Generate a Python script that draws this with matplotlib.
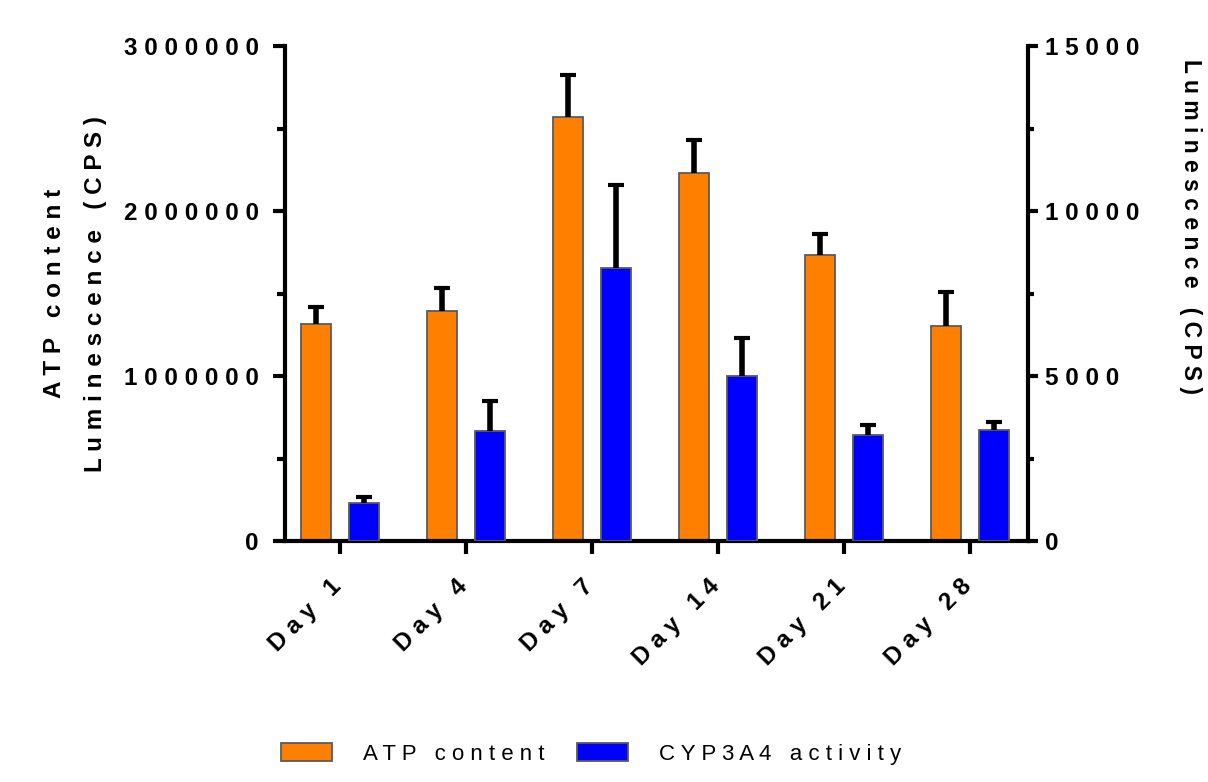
import numpy as np
import matplotlib.pyplot as plt
import matplotlib.transforms as mtransforms
from matplotlib.ticker import MultipleLocator
from matplotlib.patches import Patch

plt.rcParams['font.family'] = ['Liberation Sans', 'DejaVu Sans']

# data
days = ['Day 1', 'Day 4', 'Day 7', 'Day 14', 'Day 21', 'Day 28']
atp_mean = [1319000, 1396000, 2568000, 2232000, 1733000, 1303000]
atp_sd = [102000, 136000, 256000, 202000, 128000, 204000]
cyp_mean = [1161, 3343, 8263, 5000, 3212, 3364]
cyp_sd = [181, 909, 2534, 1152, 313, 242]
left_ticks = [0, 1000000, 2000000, 3000000]
right_ticks = [0, 5000, 10000, 15000]


def spaced(s):
    # wide letter spacing
    return ' '.join(s)


def upper_errorbar(a, xs, ys, err):
    # SD shown above the bar only, no cap at the bar top
    eb = a.errorbar(xs, ys, yerr=[np.zeros(len(ys)), err], fmt='none',
                    ecolor='black', elinewidth=4, capsize=5.5, capthick=3, zorder=3)
    eb.lines[1][0].set_visible(False)


x = np.arange(len(days))
w = 0.238
off = 0.188

fig = plt.figure(figsize=(12.08, 7.82), dpi=100)
ax = fig.add_subplot(111)
fig.subplots_adjust(left=0.236, right=0.851, bottom=0.308, top=0.941)
ax2 = ax.twinx()

ax.bar(x - off, atp_mean, w, color='#FF8000', edgecolor='#5a5a5a', linewidth=1.3, zorder=2)
upper_errorbar(ax, x - off, atp_mean, atp_sd)
ax2.bar(x + off, cyp_mean, w, color='#0000FF', edgecolor='#5a5a5a', linewidth=1.3, zorder=2)
upper_errorbar(ax2, x + off, cyp_mean, cyp_sd)

ax.set_xlim(-0.437, 5.46)
ax.set_ylim(0, 3000000)
ax2.set_ylim(0, 15000)

bold = dict(fontsize=17.5, fontweight='bold')

ax.set_yticks(left_ticks, [spaced(str(v)) for v in left_ticks], **bold)
ax.yaxis.set_minor_locator(MultipleLocator(500000))
ax2.set_yticks(right_ticks, [spaced(str(v)) for v in right_ticks], **bold)
ax2.yaxis.set_minor_locator(MultipleLocator(2500))
ax.set_xticks(x, [spaced(d) for d in days], rotation=45, ha='right', **bold)

for a in (ax, ax2):
    a.spines['top'].set_visible(False)
    for s in a.spines.values():
        s.set_linewidth(3)
ax.spines['right'].set_visible(False)
ax2.spines['left'].set_visible(False)
ax2.spines['bottom'].set_visible(False)

ax.tick_params(axis='y', which='major', length=9, width=3, pad=10)
ax.tick_params(axis='y', which='minor', length=5.5, width=3)
ax.tick_params(axis='x', which='major', length=9, width=3, pad=15)
ax2.tick_params(axis='y', which='major', length=7.5, width=3, pad=5)
ax2.tick_params(axis='y', which='minor', length=4, width=3)

# nudge the slanted day labels a little to the right (after tick_params,
# which resets the label transforms)
shift = mtransforms.ScaledTranslation(0.06, 0, fig.dpi_scale_trans)
for lbl in ax.get_xticklabels():
    lbl.set_transform(lbl.get_transform() + shift)

ax.set_ylabel(spaced('ATP content') + '\n' + spaced('Luminescence (CPS)'),
              linespacing=2.0, labelpad=12, **bold)
ax2.set_ylabel(spaced('Luminescence (CPS)'), rotation=270, va='bottom',
               fontsize=16.5, fontweight='bold')
ax2.yaxis.set_label_coords(1.203, 0.636)

handles = [Patch(facecolor='#FF8000', edgecolor='#5a5a5a', linewidth=1.3),
           Patch(facecolor='#0000FF', edgecolor='#5a5a5a', linewidth=1.3)]
fig.legend(handles, [spaced('ATP content'), spaced('CYP3A4 activity')],
           loc='center', bbox_to_anchor=(0.489, 0.036), ncol=2, frameon=False,
           fontsize=16, handlelength=2.3, handleheight=0.9, handletextpad=1.4,
           columnspacing=1.45)

fig.savefig('out.png', dpi=100)
